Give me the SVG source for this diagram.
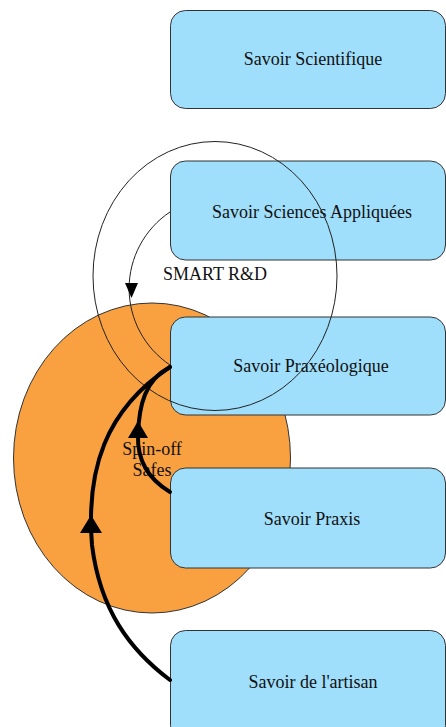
<svg xmlns="http://www.w3.org/2000/svg" width="446" height="727" viewBox="0 0 446 727">
<style>
.box{fill:#a0dffb;stroke:#333;stroke-width:1}
.t{font-family:"Liberation Serif","Times New Roman",serif;font-size:18px;fill:#111;text-anchor:middle}
.thin{fill:none;stroke:#222;stroke-width:1}
.thick{fill:none;stroke:#000;stroke-width:4;stroke-linecap:round}
</style>
<g id="spinoff-zone">
<ellipse cx="152" cy="458" rx="138.5" ry="155" fill="#f9a040" stroke="#333" stroke-width="1"/>
</g>
<g id="n1"><rect class="box" x="170.5" y="10.5" width="275" height="98" rx="15"/><text class="t" x="313" y="65">Savoir Scientifique</text></g>
<g id="n2"><rect class="box" x="170.5" y="161" width="275" height="99" rx="15"/><text class="t" x="312" y="218">Savoir Sciences Appliquées</text></g>
<g id="n3"><rect class="box" x="170.5" y="317" width="275" height="98" rx="15"/><text class="t" x="311" y="372">Savoir Praxéologique</text></g>
<g id="n4"><rect class="box" x="170.5" y="468" width="275" height="100" rx="15"/><text class="t" x="312" y="525">Savoir Praxis</text></g>
<g id="n5"><rect class="box" x="170.5" y="630.5" width="275" height="110" rx="15"/><text class="t" x="313" y="688">Savoir de l'artisan</text></g>
<g id="labels">
<text class="t" x="215" y="280">SMART R&amp;D</text>
<text class="t" x="152" y="455">Spin-off</text>
<text class="t" x="152" y="476">Safes</text>
</g>
<g id="connectors">
<ellipse class="thin" cx="215" cy="276" rx="122" ry="134.5"/>
<path class="thin" d="M170,212 A92,92 0 0 0 170,365"/>
<polygon points="125,283 138,283 131.5,298" fill="#000"/>
<path class="thick" d="M170,492 C150,480 137,462 138,435 C139,405 145,380 170,367"/>
<polygon points="128,438 148,438 138,421" fill="#000"/>
<path class="thick" d="M170,680 C130,650 100,610 92,545 C86,470 105,410 170,367"/>
<polygon points="80,533 102,533 91,515" fill="#000"/>
</g>
</svg>
